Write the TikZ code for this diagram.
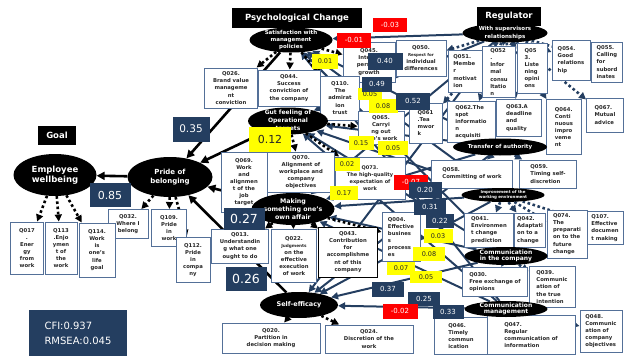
\documentclass[tikz,border=0pt]{standalone}
\usepackage{fontspec}
\setmainfont{DejaVu Sans}
\usetikzlibrary{shapes.geometric,arrows.meta,backgrounds}
\definecolor{navy}{RGB}{36,62,96}
\definecolor{boxblue}{RGB}{84,112,152}
\definecolor{hiyellow}{RGB}{255,255,0}
\definecolor{negred}{RGB}{255,0,0}
\newcommand{\fsz}[2]{\fontsize{#1}{#2}\selectfont}

\begin{document}
\begin{tikzpicture}[x=1pt, y=-1pt,
        sz/.style 2 args={minimum width=#1pt, minimum height=#2pt},
        item/.style={draw=boxblue, fill=white, line width=1pt, align=center, inner sep=1pt, text=black!85, font=\bfseries\fsz{5.3}{7.1}},
        ritem/.style={item, align=left, inner sep=1.5pt},
        latent/.style={ellipse, fill=black, text=white, align=center, inner sep=-4pt, font=\bfseries\fsz{5.5}{7.4}},
        head/.style={fill=black, text=white, inner sep=0pt, font=\bfseries\fsz{8.5}{10}},
        nv/.style={fill=navy, text=white, inner sep=0pt, font=\fsz{7}{8}},
        yl/.style={fill=hiyellow, text=black!85, inner sep=0pt, font=\fsz{6.5}{8}},
        neg/.style={fill=negred, text=white, inner sep=0pt, font=\fsz{7}{8}},
        spath/.style={-{Triangle[length=8pt,width=8pt]}, line width=2.6pt, black},
        rpath/.style={-{Triangle[length=7pt,width=7pt]}, line width=2pt, navy},
        load/.style={-{Triangle[length=7pt,width=7pt]}, line width=2.6pt, dash pattern=on 2.6pt off 2.6pt, black},
        rload/.style={load, navy}
    ]
        \useasboundingbox (0,0) rectangle (624,356);

        \node[head, sz={130}{20}] (hpsy) at (297,18) {Psychological Change};
        \node[head, sz={64}{19}] (hreg) at (509,16) {Regulator};
        \node[head, sz={38}{19}] (hgoal) at (57,135) {Goal};

        \node[item, sz={53}{40}] (q026) at (231,88) {Q026.\\Brand value\\manageme\\nt\\conviction};
        \node[item, sz={62}{36}] (q044) at (289,88) {Q044.\\Success\\conviction of\\the company};
        \node[item, sz={52}{40}] (q045) at (369,62) {Q045.\\Interes\\persona\\growth};
        \node[item, sz={39}{44}] (q110) at (340,98) {Q110.\\The\\admirat\\ion\\trust};
        \node[item, sz={46}{33}] (q065) at (381,128) {Q065.\\Carryi\\ng out\\one's work};
        \node[item, sz={46}{60}] (q069) at (244,182) {Q069.\\Work\\and\\alignmen\\t of the\\job\\target};
        \node[item, sz={67}{40}] (q070) at (301,172) {Q070.\\Alignment of\\workplace and\\company\\objectives};
        \node[item, sz={70}{42}, font=\bfseries\fsz{5}{7}] (q073) at (370,178) {Q073.\\The high-quality\\expectation of\\work};
        \node[item, sz={57}{34}] (q013) at (240,246) {Q013.\\Understandin\\g what one\\ought to do};
        \node[item, sz={45}{53}] (q022) at (294,256) {Q022.\\\fsz{4.2}{7.6}Judgments\\on the\\effective\\execution\\of work};
        \node[item, draw=black, sz={59}{50}] (q043) at (348,252) {Q043.\\Contribution\\for\\accomplishme\\nt of this\\company};
        \node[ritem, sz={38}{49}] (q004) at (401,237) {Q004.\\Effective\\busines\\s\\process\\es};
        \node[item, sz={98}{30}] (q020) at (271,338) {Q020.\\Partition in\\decision making};
        \node[item, sz={88}{28}] (q024) at (369,339) {Q024.\\Discretion of the\\work};
        \node[item, sz={40}{29}] (q032) at (128,224) {Q032.\\Where I\\belong};
        \node[item, sz={35}{37}] (q109) at (169,228) {Q109.\\Pride\\in\\work};
        \node[item, sz={34}{45}] (q112) at (193,260) {Q112.\\Pride\\in\\compa\\ny};
        \node[item, sz={33}{52}] (q017) at (27,248) {Q017\\.\\Ener\\gy\\from\\work};
        \node[item, sz={32}{52}] (q113) at (61,248) {Q113\\.Enjo\\ymen\\t of\\the\\work};
        \node[item, sz={36}{54}] (q114) at (97,250) {Q114.\\Work\\is\\one's\\life\\goal};

        \node[item, sz={50}{36}] (q050) at (421,58) {Q050.\\\fsz{4}{5.6}Respect for\\individual\\differences};
        \node[ritem, sz={34}{42}] (q051) at (465,71) {Q051.\\Membe\\r\\motivat\\ion};
        \node[ritem, sz={33}{51}] (q052) at (499,72) {Q052\\.\\Infor\\mal\\consu\\ltatio\\n};
        \node[ritem, sz={30}{50}] (q053) at (532,68) {Q05\\3.\\Liste\\ning\\opini\\ons};
        \node[ritem, sz={38}{40}] (q054) at (571,60) {Q054.\\Good\\relations\\hip};
        \node[ritem, sz={31}{40}] (q055) at (607,62) {Q055.\\Calling\\for\\subord\\inates};
        \node[ritem, sz={33}{40}] (q061) at (426,123) {Q061\\.Tea\\mwor\\k};
        \node[ritem, sz={48}{41}] (q062) at (471,122) {Q062.The\\spot\\informatio\\n\\acquisiti};
        \node[ritem, sz={45}{37}] (q063) at (519,118) {Q063.A\\deadline\\and\\quality};
        \node[ritem, sz={35}{55}] (q064) at (564,127) {Q064.\\Conti\\nuous\\impro\\veme\\nt};
        \node[ritem, sz={37}{34}] (q067) at (605,115) {Q067.\\Mutual\\advice};
        \node[ritem, sz={81}{28}] (q058) at (472,174) {Q058.\\Committing of work};
        \node[ritem, sz={57}{28}] (q059) at (548,174) {Q059.\\Timing self-\\discretion};
        \node[ritem, sz={49}{34}] (q041) at (489,230) {Q041.\\Environmen\\t change\\prediction};
        \node[ritem, sz={31}{34}] (q042) at (530,230) {Q042.\\Adaptati\\on to a\\change};
        \node[ritem, sz={40}{48}] (q074) at (567,234) {Q074.\\The\\preparati\\on to the\\future\\change};
        \node[ritem, sz={36}{33}] (q107) at (605,228) {Q107.\\Effective\\documen\\t making};
        \node[ritem, sz={65}{29}] (q030) at (495,282) {Q030.\\Free exchange of\\opinions};
        \node[ritem, sz={46}{41}] (q039) at (552,287) {Q039.\\Communic\\ation of\\the true\\intention};
        \node[ritem, sz={54}{37}] (q046) at (461,336) {Q046.\\Timely\\commun\\ication};
        \node[ritem, sz={88}{39}] (q047) at (531,335) {Q047.\\Regular\\communication of\\information};
        \node[ritem, sz={42}{42}] (q048) at (601,331) {Q048.\\Communic\\ation of\\company\\objectives};

        \node[latent, sz={83}{25}] (sat) at (291,40) {Satisfaction with\\management\\policies};
        \node[latent, sz={80}{27}, font=\bfseries\fsz{6}{7.8}] (gut) at (288,121) {Gut feeling of\\Operational\\targets};
        \node[latent, sz={85}{40}, font=\bfseries\fsz{7}{8.5}] (pride) at (170,177) {Pride of\\belonging};
        \node[latent, sz={83}{42}, font=\bfseries\fsz{8.5}{10}] (wb) at (55,175) {Employee\\wellbeing};
        \node[latent, sz={83}{32}, font=\bfseries\fsz{6.3}{7.8}] (mak) at (293,209) {Making\\something one's\\own affair};
        \node[latent, sz={78}{26}, font=\bfseries\fsz{6.5}{8}] (slf) at (299,305) {Self-efficacy};
        \node[latent, sz={85}{19}] (sup) at (505,33) {With supervisors\\relationships};
        \node[latent, sz={94}{17}] (tra) at (500,147) {Transfer of authority};
        \node[latent, sz={83}{14}, font=\bfseries\fsz{4}{4.8}] (imp) at (503,195) {Improvement of the\\working environment};
        \node[latent, sz={83}{18}, font=\bfseries\fsz{6}{6.5}] (cco) at (506,256) {Communication\\in the company};
        \node[latent, sz={83}{16}, font=\bfseries\fsz{6}{6.5}] (cma) at (506,309) {Communication\\management};

        \node[nv, sz={37}{25}, font=\fsz{10.5}{12}] (k35) at (191,129) {0.35};
        \node[nv, sz={41}{24}, font=\fsz{11}{12}] (k85) at (110,195) {0.85};
        \node[nv, sz={41}{22}, font=\fsz{12.5}{14}] (k27) at (244,219) {0.27};
        \node[nv, sz={41}{24}, font=\fsz{12.5}{14}] (k26) at (246,279) {0.26};
        \node[yl, sz={42}{25}, font=\fsz{11}{12}] (k12) at (270,139) {0.12};

        \node[neg, sz={34}{14}] (m03) at (390,25) {-0.03};
        \node[neg, sz={34}{15}] (m01) at (354,40) {-0.01};
        \node[yl, sz={26}{15}] (k01) at (325,61) {0.01};
        \node[nv, sz={35}{17}] (k40) at (385,61) {0.40};
        \node[yl, sz={24}{12}] (k05a) at (370,94) {0.05};
        \node[nv, sz={30}{15}] (k49) at (377,84) {0.49};
        \node[yl, sz={29}{14}] (k08a) at (383,106) {0.08};
        \node[nv, sz={34}{17}] (k52) at (413,101) {0.52};
        \node[yl, sz={25}{14}] (k15) at (361,143) {0.15};
        \node[yl, sz={30}{14}] (k05b) at (393,148) {0.05};
        \node[yl, sz={25}{13}] (k02) at (347,164) {0.02};
        \node[yl, sz={28}{14}] (k17) at (344,193) {0.17};
        \node[neg, sz={34}{15}] (m07) at (411,182) {-0.07};
        \node[nv, sz={33}{16}] (k20) at (425,190) {0.20};
        \node[nv, sz={32}{15}] (k31) at (430,207) {0.31};
        \node[nv, sz={28}{14}] (k22) at (440,221) {0.22};
        \node[yl, sz={29}{14}] (k03) at (438,236) {0.03};
        \node[yl, sz={32}{14}] (k08b) at (429,254) {0.08};
        \node[yl, sz={28}{13}] (k07) at (401,268) {0.07};
        \node[yl, sz={32}{12}] (k05c) at (426,277) {0.05};
        \node[nv, sz={32}{15}] (k37) at (388,289) {0.37};
        \node[nv, sz={32}{14}] (k25) at (424,299) {0.25};
        \node[nv, sz={31}{14}] (k33) at (448,312) {0.33};
        \node[neg, sz={35}{15}] (m02) at (400,311) {-0.02};

        \node[nv, sz={98}{46}, align=left, font=\fsz{10}{15}] (fit) at (78,333) {CFI:0.937\\RMSEA:0.045};

        \begin{scope}[on background layer]
        \draw[rpath] (sup) -- (sat);
        \draw[rpath] (sup) -- (gut);
        \draw[rpath] (sup) -- (mak);
        \draw[rpath] (sup) -- (slf);
        \draw[rpath] (tra) -- (sat);
        \draw[rpath] (tra) -- (gut);
        \draw[rpath] (tra) -- (mak);
        \draw[rpath] (tra) -- (slf);
        \draw[rpath] (imp) -- (sat);
        \draw[rpath] (imp) -- (gut);
        \draw[rpath] (imp) -- (mak);
        \draw[rpath] (imp) -- (slf);
        \draw[rpath] (cco) -- (sat);
        \draw[rpath] (cco) -- (gut);
        \draw[rpath] (cco) -- (mak);
        \draw[rpath] (cco) -- (slf);
        \draw[rpath] (cma) -- (sat);
        \draw[rpath] (cma) -- (gut);
        \draw[rpath] (cma) -- (mak);
        \draw[rpath] (cma) -- (slf);

        \draw[spath] (sat) -- (pride);
        \draw[spath] (gut) -- (pride);
        \draw[spath] (mak) -- (pride);
        \draw[spath] (slf) -- (pride);
        \draw[spath] (pride) -- (wb);

        \draw[load] (wb) -- (q017);
        \draw[load] (wb) -- (q113);
        \draw[load] (wb) -- (q114);
        \draw[load] (pride) -- (q032);
        \draw[load] (pride) -- (q109);
        \draw[load] (pride) -- (q112);
        \draw[load] (sat) -- (q026);
        \draw[load] (sat) -- (q044);
        \draw[load] (sat) -- (q045);
        \draw[load] (sat) -- (q110);
        \draw[load] (gut) -- (q069);
        \draw[load] (gut) -- (q070);
        \draw[load] (gut) -- (q073);
        \draw[load] (gut) -- (q065);
        \draw[load] (mak) -- (q013);
        \draw[load] (mak) -- (q022);
        \draw[load] (mak) -- (q043);
        \draw[load] (mak) -- (q004);
        \draw[load] (slf) -- (q020);
        \draw[load] (slf) -- (q024);

        \draw[rload] (sup) -- (q050);
        \draw[rload] (sup) -- (q051);
        \draw[rload] (sup) -- (q052);
        \draw[rload] (sup) -- (q053);
        \draw[rload] (sup) -- (q054);
        \draw[rload] (sup) -- (q055);
        \draw[rload] (sup) -- (q061);
        \draw[rload] (sup) -- (q062);
        \draw[rload] (sup) -- (q063);
        \draw[rload] (sup) -- (q064);
        \draw[rload] (sup) -- (q067);
        \draw[rload] (tra) -- (q058);
        \draw[rload] (tra) -- (q059);
        \draw[rload] (imp) -- (q041);
        \draw[rload] (imp) -- (q042);
        \draw[rload] (imp) -- (q074);
        \draw[rload] (imp) -- (q107);
        \draw[rload] (cco) -- (q030);
        \draw[rload] (cco) -- (q039);
        \draw[rload] (cma) -- (q046);
        \draw[rload] (cma) -- (q047);
        \draw[rload] (cma) -- (q048);
        \end{scope}
    \end{tikzpicture}
\end{document}
